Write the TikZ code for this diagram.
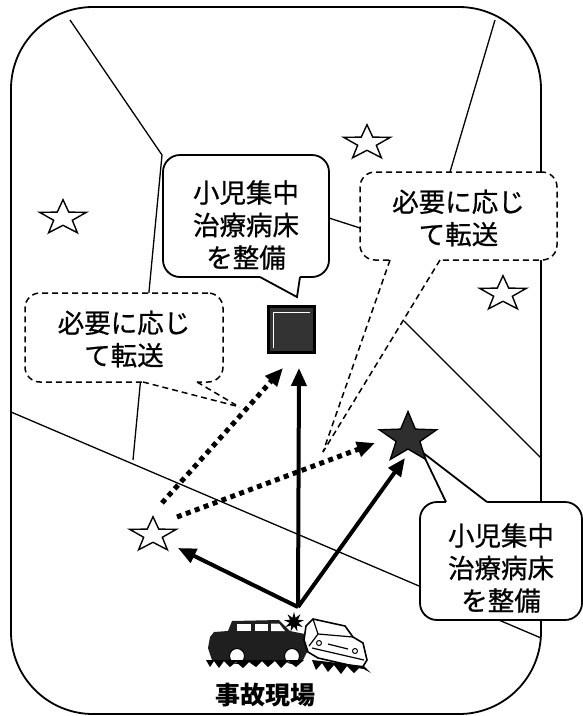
\documentclass[tikz,border=0pt]{standalone}
\usepackage{fontspec}
\setmainfont{Noto Sans CJK JP}
\newfontfamily\jpmid{Noto Sans CJK JP}[FakeBold=0.7]
\usetikzlibrary{shapes.geometric, arrows.meta}

\begin{document}
\begin{tikzpicture}[x=1pt, y=-1pt,
  frame/.style={line width=1.8pt, rounded corners=82pt},
  road/.style={line width=1.3pt},
  callout/.style={draw, fill=white, line width=1.8pt, rounded corners=17pt, inner sep=0pt},
  dcallout/.style={draw, fill=white, line width=1.5pt, dash pattern=on 6pt off 4pt, rounded corners=15pt, inner sep=0pt},
  dtail/.style={line width=1.5pt, dash pattern=on 6pt off 4pt},
  ctext/.style={align=center, font=\jpmid\fontsize{26.5}{32.5}\selectfont, inner sep=0pt},
  ostar/.style={draw, fill=white, line width=1.4pt, star, star points=5, star point ratio=2.5,
    minimum size=49pt, inner sep=0pt, yscale=0.745},
  bstar/.style={draw, fill=black!82, line width=1.4pt, star, star points=5, star point ratio=2.4,
    minimum size=60pt, inner sep=0pt, yscale=0.88},
  solidarrow/.style={line width=4pt, -{Triangle[length=18pt,width=15pt]}},
  dotarrow/.style={line width=5pt, dash pattern=on 5pt off 4.5pt, -{Triangle[length=18pt,width=15pt]}}
]
\useasboundingbox (0,0) rectangle (583,716);

% map frame
\draw[frame] (11,7) rectangle (541,714);

% roads
\draw[road] (70,20) -- (162,155) -- (133,460);
\draw[road] (495,20) -- (450,172);
\draw[road] (329,218) -- (360,228);
\draw[road] (404,321) -- (541,458);
\draw[road] (11,412) -- (541,638);

% callout: facility (top)
\node[callout, minimum width=166pt, minimum height=122pt] (fac1) at (246,216) {};
\fill[white] (260,270) -- (260,277) -- (297,297) -- (300,277) -- (300,270) -- cycle;
\draw[line width=1.8pt] (260,277) -- (297,297) -- (300,277);
\node[ctext] (fac1t) at (246,225) {小児集中\\治療病床\\を整備};

% callout: transfer (upper right)
\node[dcallout, minimum width=197pt, minimum height=88pt] (tr1) at (458.5,216) {};
\fill[white] (390,255) -- (390,260) -- (323,452) -- (440,260) -- (440,255) -- cycle;
\draw[dtail] (390,260) -- (323,452);
\draw[dtail] (440,260) -- (323,452);
\node[ctext] (tr1t) at (458.5,218) {必要に応じ\\て転送};

% callout: transfer (left)
\node[dcallout, minimum width=198pt, minimum height=89pt] (tr2) at (124,337.5) {};
\fill[white] (143,377) -- (143,382) -- (240,407) -- (197,382) -- (197,377) -- cycle;
\draw[dtail] (143,382) -- (240,407);
\draw[dtail] (197,382) -- (236,405);
\node[ctext] (tr2t) at (124,339) {必要に応じ\\て転送};

% callout: facility (lower right)
\node[callout, minimum width=162pt, minimum height=118pt] (fac2) at (501,561) {};
\fill[white] (446,508) -- (446,502) -- (422,452) -- (487,502) -- (487,508) -- cycle;
\draw[line width=1.8pt] (446,502) -- (422,452) -- (487,502);
\node[ctext] (fac2t) at (501,568) {小児集中\\治療病床\\を整備};

% hospitals
\node[ostar] (h1) at (63,218) {};
\node[ostar] (h2) at (367,143) {};
\node[ostar] (h3) at (503,294) {};
\node[ostar] (h4) at (153,535) {};
\node[bstar] (hp) at (408,438) {};

% pediatric intensive care unit
\node[draw, fill=black!80, line width=2.5pt, minimum width=46pt, minimum height=46pt, inner sep=0pt] (picu) at (291.5,329.5) {};
\draw[white, line width=1pt] (273,348) -- (273,312) -- (310,312);

% crash site and routes
\coordinate (crash) at (298,607);
\coordinate (sqtip) at (299,368);
\coordinate (h4tip) at (178,548);
\coordinate (hptip) at (405,458);
\coordinate (d1from) at (162,503);
\coordinate (d1tip) at (283,368);
\coordinate (d2from) at (177,517);
\coordinate (d2tip) at (375,443);

\draw[dotarrow] (d1from) -- (d1tip);
\draw[dotarrow] (d2from) -- (d2tip);
\draw[solidarrow] (crash) -- (sqtip);
\draw[solidarrow] (crash) -- (h4tip);
\draw[solidarrow] (crash) -- (hptip);

% dark car
\fill[black!88] (210,637) -- (214,632) -- (228,631) -- (232,621) -- (279,620) -- (290,631)
  -- (305,634) -- (308,650) -- (303,660) -- (212,660) -- (208,648) -- cycle;
\fill[white] (237,623.5) rectangle (251,631);
\fill[white] (255,623.5) rectangle (268,631);
\fill[white] (271,623.5) -- (279,623.5) -- (285,631) -- (271,631) -- cycle;
\filldraw[fill=white, draw=black, line width=1pt] (237,656) circle (7.5pt);
\filldraw[fill=white, draw=black, line width=1pt] (292,656) circle (7.5pt);
\fill[black] (206,660) -- (210,667) -- (214,661) -- (219,668) -- (224,661) -- (230,667) -- (236,662)
  -- (243,668) -- (249,662) -- (256,667) -- (262,661) -- (268,667) -- (275,661) -- (281,668)
  -- (288,661) -- (296,667) -- (304,660) -- cycle;

% impact burst
\node[star, star points=9, star point ratio=2.2, fill=black, minimum size=20pt, inner sep=0pt] (burst) at (294,622) {};

% white car
\filldraw[fill=white, draw=black, line width=1.6pt] (306,626) -- (313,619) -- (345,626) -- (353,637)
  -- (363,643) -- (367,660) -- (362,668) -- (318,658) -- (308,652) -- (304,640) -- cycle;
\draw[line width=1.2pt] (313,619) -- (318,634) -- (353,637);
\draw[line width=1.2pt] (318,634) -- (309,646);
\draw[line width=1.2pt] (312,648) -- (364,660);
\draw[line width=1pt] (319,643) circle (2.5pt);
\draw[line width=1pt] (355,651) circle (2.5pt);
\draw[line width=1.2pt] (328,644) -- (348,649);
\fill[black] (312,660) -- (316,670) -- (322,663) -- (328,672) -- (334,665) -- (341,674) -- (347,666)
  -- (354,673) -- (360,667) -- (371,673) -- (364,666) -- cycle;

\node[font=\fontsize{25}{30}\selectfont\bfseries, inner sep=0pt] (site) at (265,695) {事故現場};
\end{tikzpicture}
\end{document}
